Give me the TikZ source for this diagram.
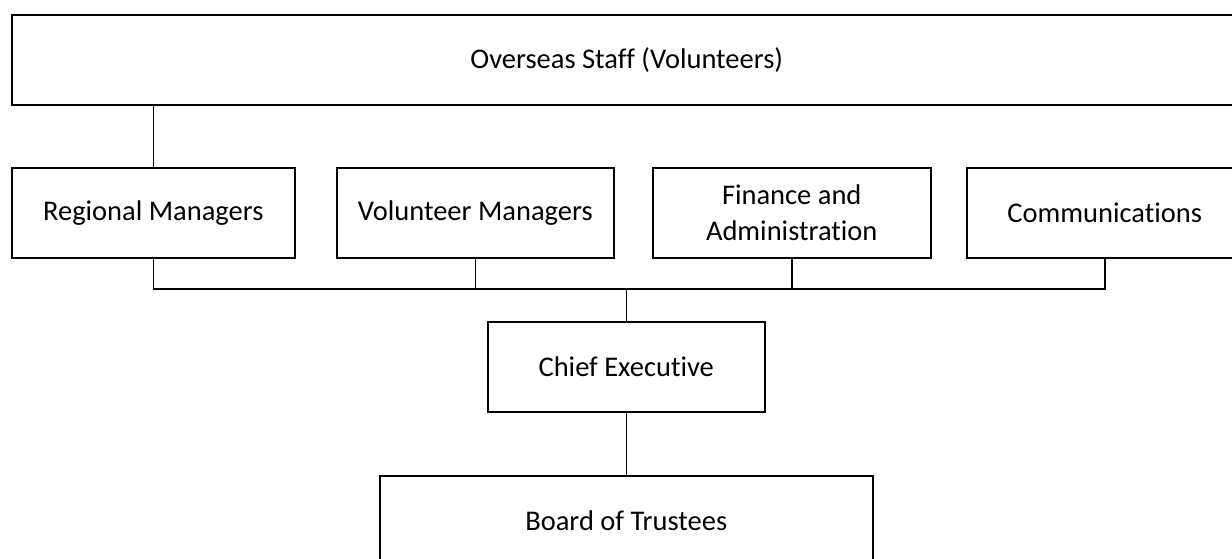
\documentclass[tikz,border=0pt]{standalone}
\usepackage{fontspec}
\setmainfont[Ligatures=NoCommon]{Carlito}
\usetikzlibrary{positioning}

\tikzset{
  unit/.style={draw=black, line width=1.5pt, rectangle, anchor=north west, align=center,
    minimum height=90pt, inner sep=0pt, font=\fontsize{28.5}{36}\selectfont},
  link/.style={black, line width=1.5pt}
}

\begin{document}
\begin{tikzpicture}[x=1pt, y=-1pt]
  \clip (0,0) rectangle (1232,558);

  % boxes
  \node[unit, minimum width=1230pt] (overseas) at (11,14) {Overseas Staff (Volunteers)};

  \node[unit, minimum width=283pt] (regional) at (11,167) {Regional Managers};
  \node[unit, minimum width=277pt] (volunteer) at (336,167) {Volunteer Managers};
  \node[unit, minimum width=278pt] (finance) at (652,167) {Finance and\\Administration};
  \node[unit, minimum width=276pt] (comms) at (966,167) {Communications};

  \node[unit, minimum width=277pt] (chief) at (487,321) {Chief Executive};
  \node[unit, minimum width=493pt] (board) at (379,475) {Board of Trustees};

  % connectors
  \coordinate (bus) at ([yshift=32pt]chief.north);

  \draw[link] (regional.north) -- (regional.north |- overseas.south);
  \draw[link] (regional.south) |- (bus) -| (comms.south);
  \draw[link] (volunteer.south) -- (volunteer.south |- bus);
  \draw[link] (finance.south) -- (finance.south |- bus);
  \draw[link] (bus) -- (chief.north);
  \draw[link] (chief.south) -- (board.north);

\end{tikzpicture}
\end{document}
